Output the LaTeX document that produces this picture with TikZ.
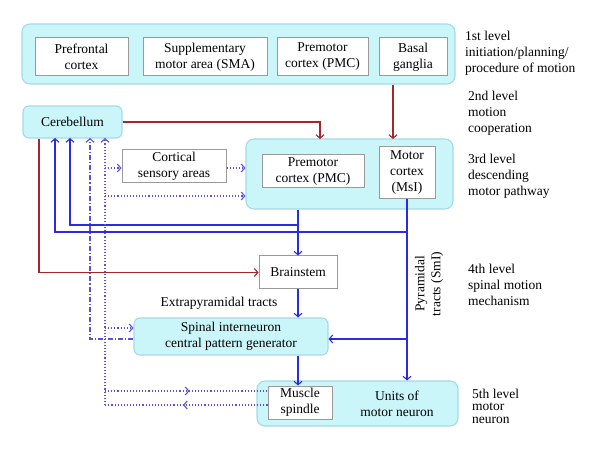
\documentclass[tikz,border=0pt]{standalone}
\usepackage{fontspec}
\setmainfont{Liberation Serif}
\usetikzlibrary{arrows.meta,decorations.markings}
\definecolor{cyanfill}{HTML}{CAF6FA}
\definecolor{cyanedge}{HTML}{A4DAE6}
\definecolor{boxedge}{HTML}{9A9A9A}
\definecolor{darkred}{HTML}{A3262C}
\definecolor{myblue}{HTML}{2B2BE6}
\definecolor{dotblue}{HTML}{5A4FE0}
\begin{document}
\begin{tikzpicture}[x=1pt,y=-1pt,font=\fontsize{13.5}{16}\selectfont,
  level/.style={rounded corners=8pt,fill=cyanfill,draw=cyanedge,line width=1.1pt,inner sep=0pt,align=center},
  inbox/.style={draw=boxedge,fill=white,line width=1pt,align=center,inner sep=0pt},
  redline/.style={draw=darkred,line width=1.1pt},
  blueline/.style={draw=myblue,line width=1.1pt},
  dotline/.style={draw=dotblue,line width=1.1pt,dash pattern=on 1.1pt off 2pt},
  dashdot/.style={draw=dotblue,line width=1.1pt,dash pattern=on 5pt off 2pt on 1.1pt off 2pt},
  tip/.style={-{Straight Barb[length=3.5pt,width=8pt]}},
  midarrow/.style={postaction={decorate},decoration={markings,mark=at position 0.52 with {\arrow{Straight Barb[length=3.5pt,width=8pt]}}}},
  lab/.style={align=left,anchor=west,inner sep=0pt}
]
\useasboundingbox (0,0) rectangle (600,449);

% level boxes
\node[level,minimum width=433,minimum height=60] (top) at (238.5,54) {};
\node[inbox,minimum width=93,minimum height=38] (pf) at (81.5,57) {Prefrontal\\cortex};
\node[inbox,minimum width=124,minimum height=38] (sma) at (205,57) {Supplementary\\motor area (SMA)};
\node[inbox,minimum width=91,minimum height=38] (pmca) at (322.5,57) {Premotor\\cortex (PMC)};
\node[inbox,minimum width=68,minimum height=38] (bg) at (413,57) {Basal\\ganglia};

\node[level,minimum width=99,minimum height=32,rounded corners=6pt] (cereb) at (72.5,122) {Cerebellum};

\node[level,minimum width=207,minimum height=70] (l3) at (349.5,174) {};
\node[inbox,minimum width=102,minimum height=33] (pmc) at (313,171.5) {Premotor\\cortex (PMC)};
\node[inbox,minimum width=56,minimum height=52] (mc) at (407,173) {Motor\\cortex\\(MsI)};
\node[inbox,minimum width=104,minimum height=33] (csa) at (174,166.5) {Cortical\\sensory areas};

\node[inbox,minimum width=78,minimum height=33] (brain) at (298,272.5) {Brainstem};
\node[level,minimum width=194,minimum height=37,rounded corners=6pt] (spinal) at (231,336.5) {Spinal interneuron\\central pattern generator};

\node[level,minimum width=201,minimum height=45] (l5) at (357.5,403.5) {};
\node[inbox,minimum width=64,minimum height=33] (ms) at (300,402.5) {Muscle\\spindle};
\node[align=center,inner sep=0pt] (units) at (397,403.5) {Units of\\motor neuron};

% texts
\node[inner sep=0pt] (extra) at (219,303) {Extrapyramidal tracts};
\node[rotate=90,align=center,inner sep=0pt] (pyr) at (429,284) {Pyramidal\\tracts (SmI)};

\node[lab] (t1) at (465,53) {1st level\\initiation/planning/\\procedure of motion};
\node[lab] (t2) at (468,113) {2nd level\\motion\\cooperation};
\node[lab] (t3) at (468,176) {3rd level\\descending\\motor pathway};
\node[lab] (t4) at (468,285) {4th level\\spinal motion\\mechanism};
\node[lab,font=\fontsize{13.5}{12.5}\selectfont] (t5) at (472,406) {5th level\\motor\\neuron};

% coordinates
\coordinate (r1) at (320,139);
\coordinate (r2) at (393,139);
\coordinate (r3) at (39,272);
\coordinate (a55) at (55,138);
\coordinate (a70) at (70,138);
\coordinate (a90) at (90,138);
\coordinate (a105) at (105,138);
\coordinate (j1) at (298,225);
\coordinate (j2) at (407,232);
\coordinate (j3) at (407,339);
\coordinate (d1) at (105,405);
\coordinate (d2) at (105,391);
\coordinate (d3) at (105,328);
\coordinate (d4) at (105,196);
\coordinate (d5) at (105,168);
\coordinate (e1) at (90,339);

% red connectors
\draw[redline,tip] (cereb.east) -| (r1);
\draw[redline,tip] (top.south -| r2) -- (r2);
\draw[redline,tip] (cereb.south -| r3) |- (brain.west);

% blue connectors
\draw[blueline,tip] (l3.south -| j1) -- (brain.north -| j1);
\draw[blueline,tip] (j1) -| (a70);
\draw[blueline,tip] (mc.south) -- (mc.south |- l5.north);
\draw[blueline,tip] (j2) -| (a55);
\draw[blueline,tip] (j3) -- (j3 -| spinal.east);
\draw[blueline,tip] (brain.south -| j1) -- (spinal.north -| j1);
\draw[blueline,tip] (spinal.south -| j1) -- (ms.north -| j1);

% dotted connectors
\draw[dotline,midarrow] (ms.west |- d1) -- (d1);
\draw[dotline,tip] (d1) -- (a105);
\draw[dotline,midarrow] (d2) -- (d2 -| ms.west);
\draw[dotline,tip] (d3) -- (d3 -| spinal.west);
\draw[dotline,tip] (d4) -- (d4 -| l3.west);
\draw[dotline,tip] (d5) -- (d5 -| csa.west);
\draw[dotline,tip] (csa.east |- d5) -- (d5 -| l3.west);

% dash-dot connector
\draw[dashdot,tip] (spinal.west |- e1) -- (e1) -- (a90);
\end{tikzpicture}
\end{document}
